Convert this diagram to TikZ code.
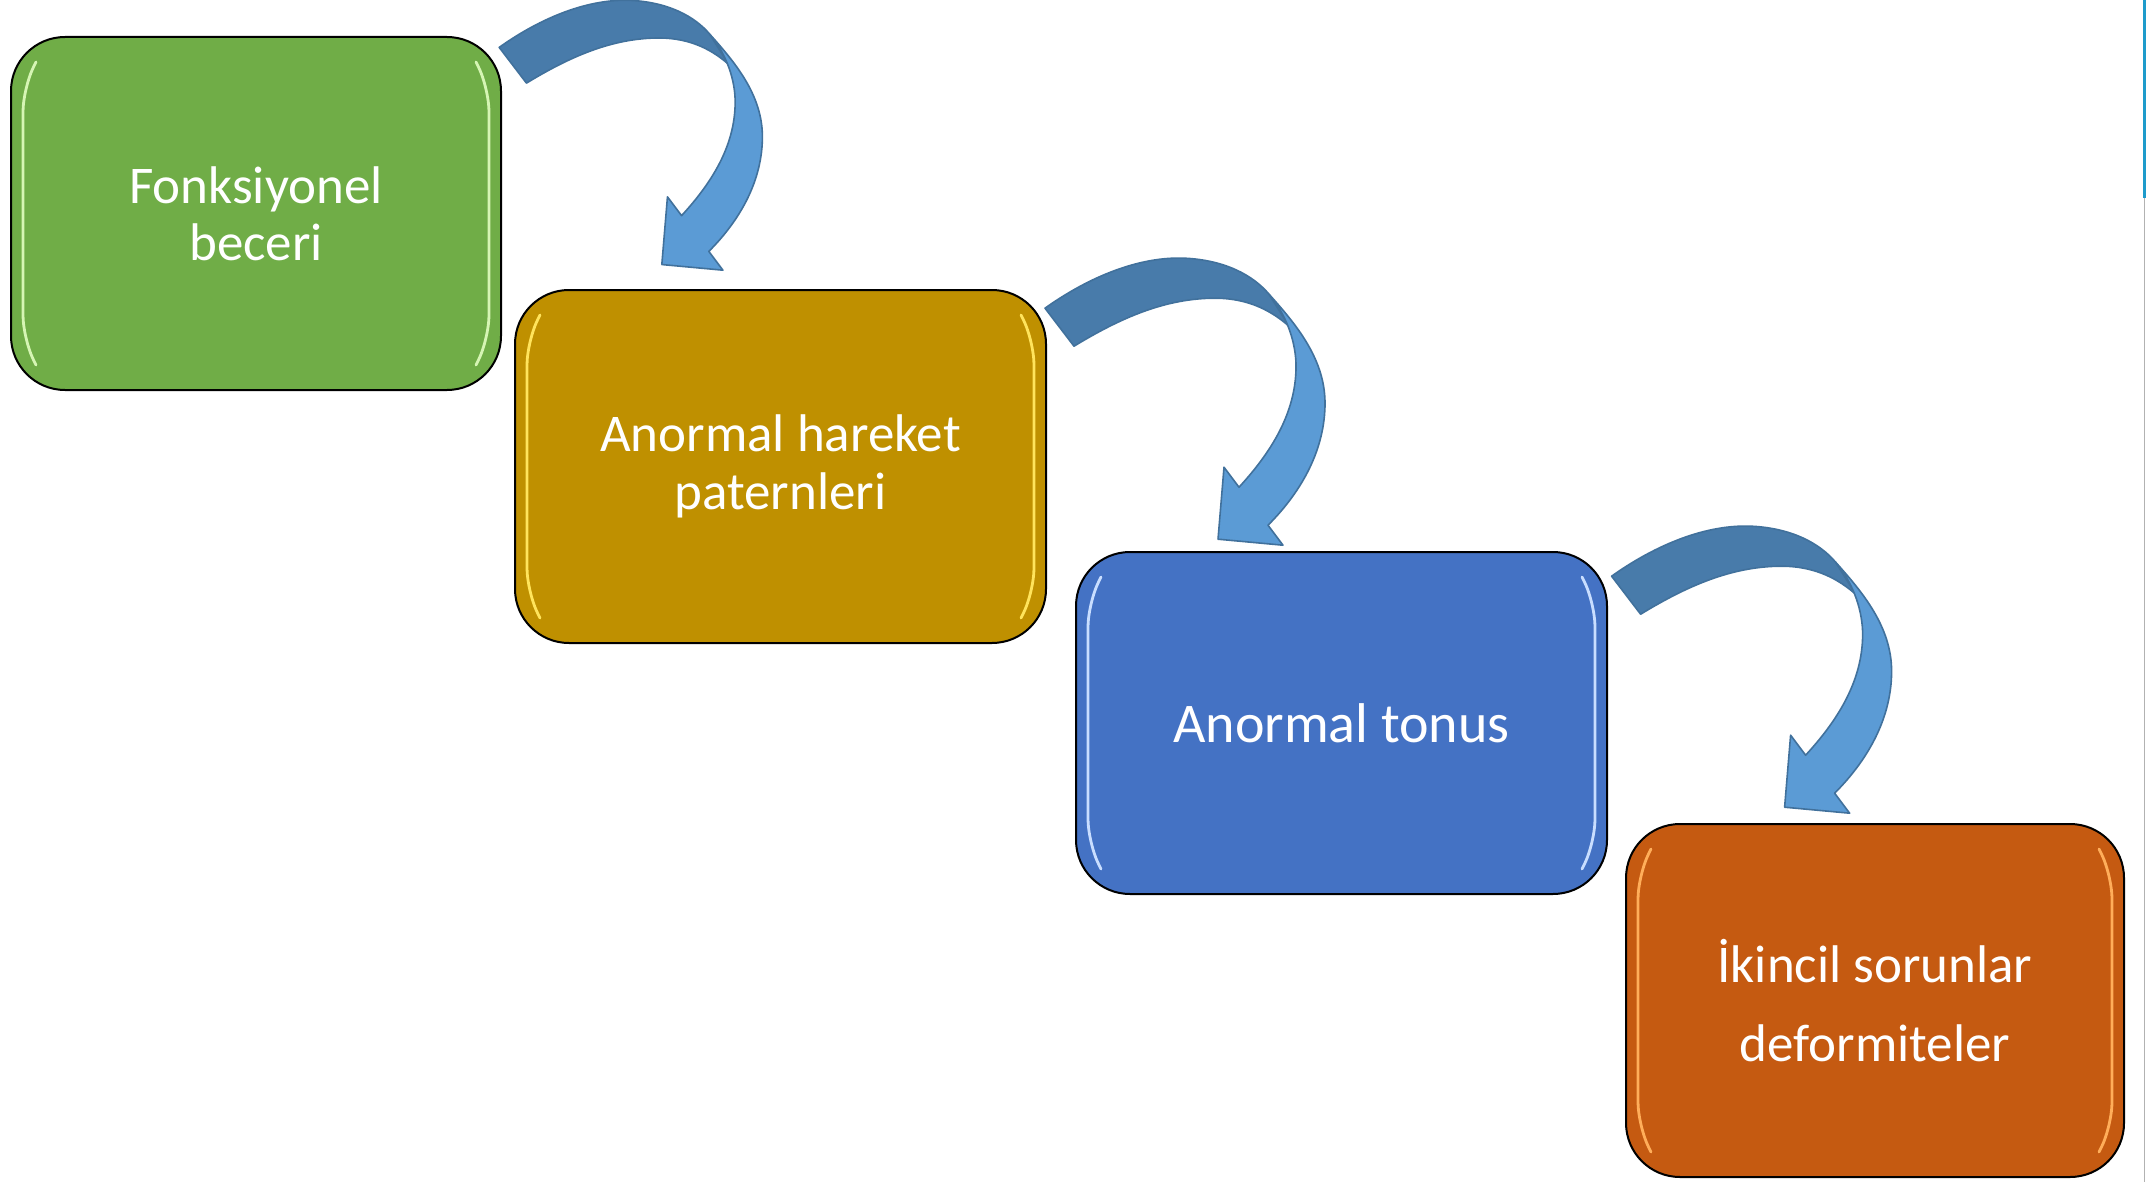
\documentclass[tikz,border=0pt]{standalone}
\usepackage{fontspec}
\newfontfamily\boxfont{Carlito}
\usetikzlibrary{positioning}

\definecolor{boxgreen}{HTML}{70AD47}
\definecolor{boxgold}{HTML}{BF9000}
\definecolor{boxblue}{HTML}{4472C4}
\definecolor{boxorange}{HTML}{C55A11}
\definecolor{greenhl}{HTML}{D6F5B4}
\definecolor{goldhl}{HTML}{FFE45C}
\definecolor{bluehl}{HTML}{C9DEFF}
\definecolor{orangehl}{HTML}{FFAE5A}
\definecolor{arrowlight}{HTML}{5B9BD5}
\definecolor{arrowdark}{HTML}{487BAA}
\definecolor{arrowline}{HTML}{41719C}
\definecolor{edgeteal}{HTML}{1E9BCB}

% glossy side strips of a box
\newcommand{\boxshine}[2]{%
  \draw[shine=#2] ([shift={(26,26)}]#1.north west) -- ([shift={(13,52)}]#1.north west)
     -- ([shift={(13,-52)}]#1.south west) -- ([shift={(26,-26)}]#1.south west);
  \draw[shine=#2] ([shift={(-26,26)}]#1.north east) -- ([shift={(-13,52)}]#1.north east)
     -- ([shift={(-13,-52)}]#1.south east) -- ([shift={(-26,-26)}]#1.south east);
}

\tikzset{
  curvedarrow/.pic={
    % back part
    \filldraw[arrowback] (0,0) .. controls (45,-32) and (95,-52) .. (140,-50)
      .. controls (180,-48) and (208,-33) .. (224,-14)
      -- (244,18)
      .. controls (228,4) and (205,-10) .. (170,-10)
      .. controls (120,-10) and (75,10) .. (29,38) -- cycle;
    % front part with head
    \filldraw[arrowfront] (224,-14) .. controls (250,15) and (280,50) .. (280,95)
      .. controls (280,140) and (258,182) .. (223,217)
      -- (238,237) -- (173,231) -- (179,159) -- (194,179)
      .. controls (230,140) and (252,100) .. (251,55)
      .. controls (250,30) and (240,5) .. (224,-14) -- cycle;
  }
}

\begin{document}
\begin{tikzpicture}[x=0.5pt,y=-0.5pt,
    roundbox/.style={draw=black, line width=1pt, rounded corners=27pt, text=white, align=center,
      font=\boxfont\fontsize{26.5}{28.7}\selectfont, inner sep=0pt},
    shine/.style={draw=#1, line width=1.4pt, line cap=round, rounded corners=12pt},
    arrowback/.style={fill=arrowdark, draw=arrowline, line width=0.8pt, line join=round},
    arrowfront/.style={fill=arrowlight, draw=arrowline, line width=0.8pt, line join=round}]
    \useasboundingbox[fill=white] (0,0) rectangle (2146,1182);

    \node(b1)[roundbox, fill=boxgreen, minimum width=245pt, minimum height=176.5pt] at (256,213.5) {Fonksiyonel\\beceri};
    \node(b2)[roundbox, fill=boxgold, minimum width=265.5pt, minimum height=176.5pt] at (780.5,466.5) {Anormal hareket\\paternleri};
    \node(b3)[roundbox, fill=boxblue, minimum width=265.5pt, minimum height=171pt,
      font=\boxfont\fontsize{28}{30}\selectfont] at (1341.5,723) {Anormal tonus};
    \node(b4)[roundbox, fill=boxorange, minimum width=249pt, minimum height=176.5pt,
      font=\boxfont\fontsize{26.5}{39.7}\selectfont] at (1875,1000.5) {İkincil sorunlar\\deformiteler};

    \boxshine{b1}{greenhl}
    \boxshine{b2}{goldhl}
    \boxshine{b3}{bluehl}
    \boxshine{b4}{orangehl}

    \pic[scale=0.94] at ([xshift=-1.4pt,yshift=-5.7pt]b1.north east) {curvedarrow};
    \pic at ([xshift=-1pt,yshift=-9.6pt]b2.north east) {curvedarrow};
    \pic at ([xshift=1.8pt,yshift=-12.6pt]b3.north east) {curvedarrow};

    % slide edge
    \draw[edgeteal, line width=1.2pt] (2144.5,0) -- (2144.5,198);
    \draw[gray!60, line width=0.6pt] (2144.5,198) -- (2144.5,1182);
\end{tikzpicture}
\end{document}
